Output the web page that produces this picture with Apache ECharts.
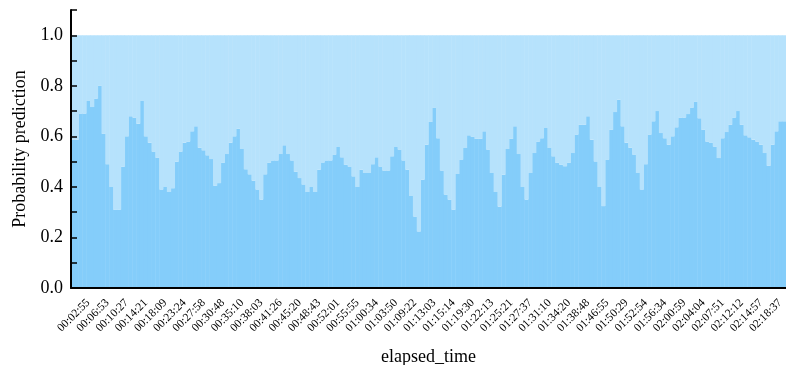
<!DOCTYPE html>
<html>
<head>
<meta charset="utf-8">
<script src="https://cdn.jsdelivr.net/npm/echarts@6/dist/echarts.min.js"></script>
<style>
  html, body { margin: 0; padding: 0; background: #fff; }
  #chart { width: 786px; height: 365px; }
</style>
</head>
<body>
<div id="chart"></div>
<script>
// tick labels shown every 5th bar (elapsed time)
const tickLabels = [
  '00:02:55', '00:06:53', '00:10:27', '00:14:21', '00:18:09', '00:23:24', '00:27:58',
  '00:30:48', '00:35:10', '00:38:03', '00:41:26', '00:45:20', '00:48:43', '00:52:01',
  '00:55:55', '01:00:34', '01:03:50', '01:09:22', '01:13:03', '01:15:14', '01:19:30',
  '01:22:13', '01:25:21', '01:27:37', '01:31:10', '01:34:20', '01:38:48', '01:46:55',
  '01:50:29', '01:52:54', '01:56:34', '02:00:59', '02:04:04', '02:07:51', '02:12:12',
  '02:14:57', '02:18:37'
];

// predicted probability (darker, lower part of each column)
const probLow = [
  0.587, 0.587, 0.69, 0.69, 0.74, 0.716, 0.75, 0.80, 0.61, 0.49,
  0.40, 0.31, 0.31, 0.48, 0.60, 0.68, 0.675, 0.65, 0.74, 0.60,
  0.575, 0.54, 0.515, 0.39, 0.40, 0.38, 0.395, 0.50, 0.54, 0.575,
  0.58, 0.62, 0.64, 0.555, 0.545, 0.525, 0.51, 0.405,
  0.415, 0.495, 0.53, 0.575, 0.60, 0.63, 0.55, 0.47, 0.45, 0.425,
  0.39, 0.35, 0.45, 0.495, 0.505, 0.505, 0.53, 0.565, 0.53, 0.505,
  0.46, 0.435, 0.41, 0.38, 0.40, 0.38,
  0.468, 0.497, 0.505, 0.505, 0.528, 0.558, 0.517, 0.488, 0.481, 0.442,
  0.40, 0.468, 0.455, 0.455, 0.49, 0.517, 0.481, 0.465, 0.465, 0.521,
  0.558, 0.548, 0.505, 0.468, 0.364, 0.283, 0.224,
  0.429, 0.567, 0.657, 0.714, 0.593, 0.465, 0.37, 0.35, 0.31, 0.451,
  0.508, 0.554, 0.604, 0.598, 0.59, 0.59, 0.62, 0.548, 0.455, 0.38, 0.322,
  0.448, 0.55, 0.59, 0.64, 0.53, 0.40, 0.35,
  0.455, 0.534, 0.58, 0.593, 0.633, 0.554, 0.521, 0.495, 0.488, 0.482,
  0.495, 0.534, 0.607, 0.646, 0.646, 0.68, 0.587, 0.501, 0.40, 0.324,
  0.508, 0.626, 0.696, 0.745, 0.64, 0.575, 0.555, 0.528, 0.455, 0.39,
  0.49, 0.607, 0.66, 0.70, 0.613, 0.593, 0.567, 0.60, 0.636, 0.675,
  0.675, 0.688, 0.714, 0.738, 0.672, 0.626, 0.58, 0.574, 0.56, 0.514,
  0.593, 0.617, 0.646, 0.675, 0.70, 0.646, 0.604, 0.596, 0.587, 0.58,
  0.567, 0.534, 0.484, 0.567, 0.62, 0.66, 0.66
];

// the other class: both parts add up to 1
const probHigh = probLow.map(v => +(1 - v).toFixed(3));
const categories = probLow.map((v, i) => String(i));

const FONT = 'Liberation Serif';
const isMajor = i => i % 5 === 4;
const isMinor = i => i % 5 === 2;

const chart = echarts.init(document.getElementById('chart'));

chart.setOption({
  animation: false,
  grid: { left: 71, right: 0, top: 10, bottom: 77, outerBoundsMode: 'none' },
  xAxis: [
    {
      type: 'category',
      data: categories,
      z: 5,
      name: 'elapsed_time',
      nameLocation: 'middle',
      nameGap: 60,
      nameTextStyle: { fontFamily: FONT, fontSize: 18, color: '#000' },
      axisLine: { lineStyle: { color: '#000', width: 2 } },
      axisTick: { inside: true, alignWithLabel: true, length: 8, interval: isMajor,
                  lineStyle: { color: '#000', width: 1.5 } },
      axisLabel: {
        interval: isMajor, rotate: 45, margin: 13,
        fontFamily: FONT, fontSize: 11.5, color: '#000',
        formatter: (v, i) => tickLabels[(i - 4) / 5] || ''
      },
      splitLine: { show: false }
    },
    {
      // minor ticks between the labelled ones
      type: 'category',
      data: categories,
      position: 'bottom',
      z: 5,
      axisLine: { show: false },
      axisTick: { inside: true, length: 4, interval: isMinor,
                  lineStyle: { color: '#000', width: 1.5 } },
      axisLabel: { show: false },
      splitLine: { show: false }
    }
  ],
  yAxis: {
    type: 'value',
    min: 0,
    max: 1.1,
    interval: 0.1,
    z: 5,
    name: 'Probability prediction',
    nameLocation: 'middle',
    nameGap: 41,
    nameTextStyle: { fontFamily: FONT, fontSize: 18, color: '#000' },
    axisLine: { show: true, lineStyle: { color: '#000', width: 2 } },
    axisTick: { show: true, inside: true, length: 6, lineStyle: { color: '#000', width: 1.5 } },
    axisLabel: {
      fontFamily: FONT, fontSize: 18, color: '#000', margin: 8,
      formatter: v => (Math.round(v * 10) % 2 === 0 ? v.toFixed(1) : '')
    },
    splitLine: { show: false }
  },
  series: [
    {
      type: 'bar',
      stack: 'prob',
      data: probLow,
      barWidth: '112%',
      itemStyle: { color: '#84CDFA' }
    },
    {
      type: 'bar',
      stack: 'prob',
      data: probHigh,
      barWidth: '112%',
      itemStyle: { color: '#B6E2FC' }
    }
  ]
});
</script>
</body>
</html>
